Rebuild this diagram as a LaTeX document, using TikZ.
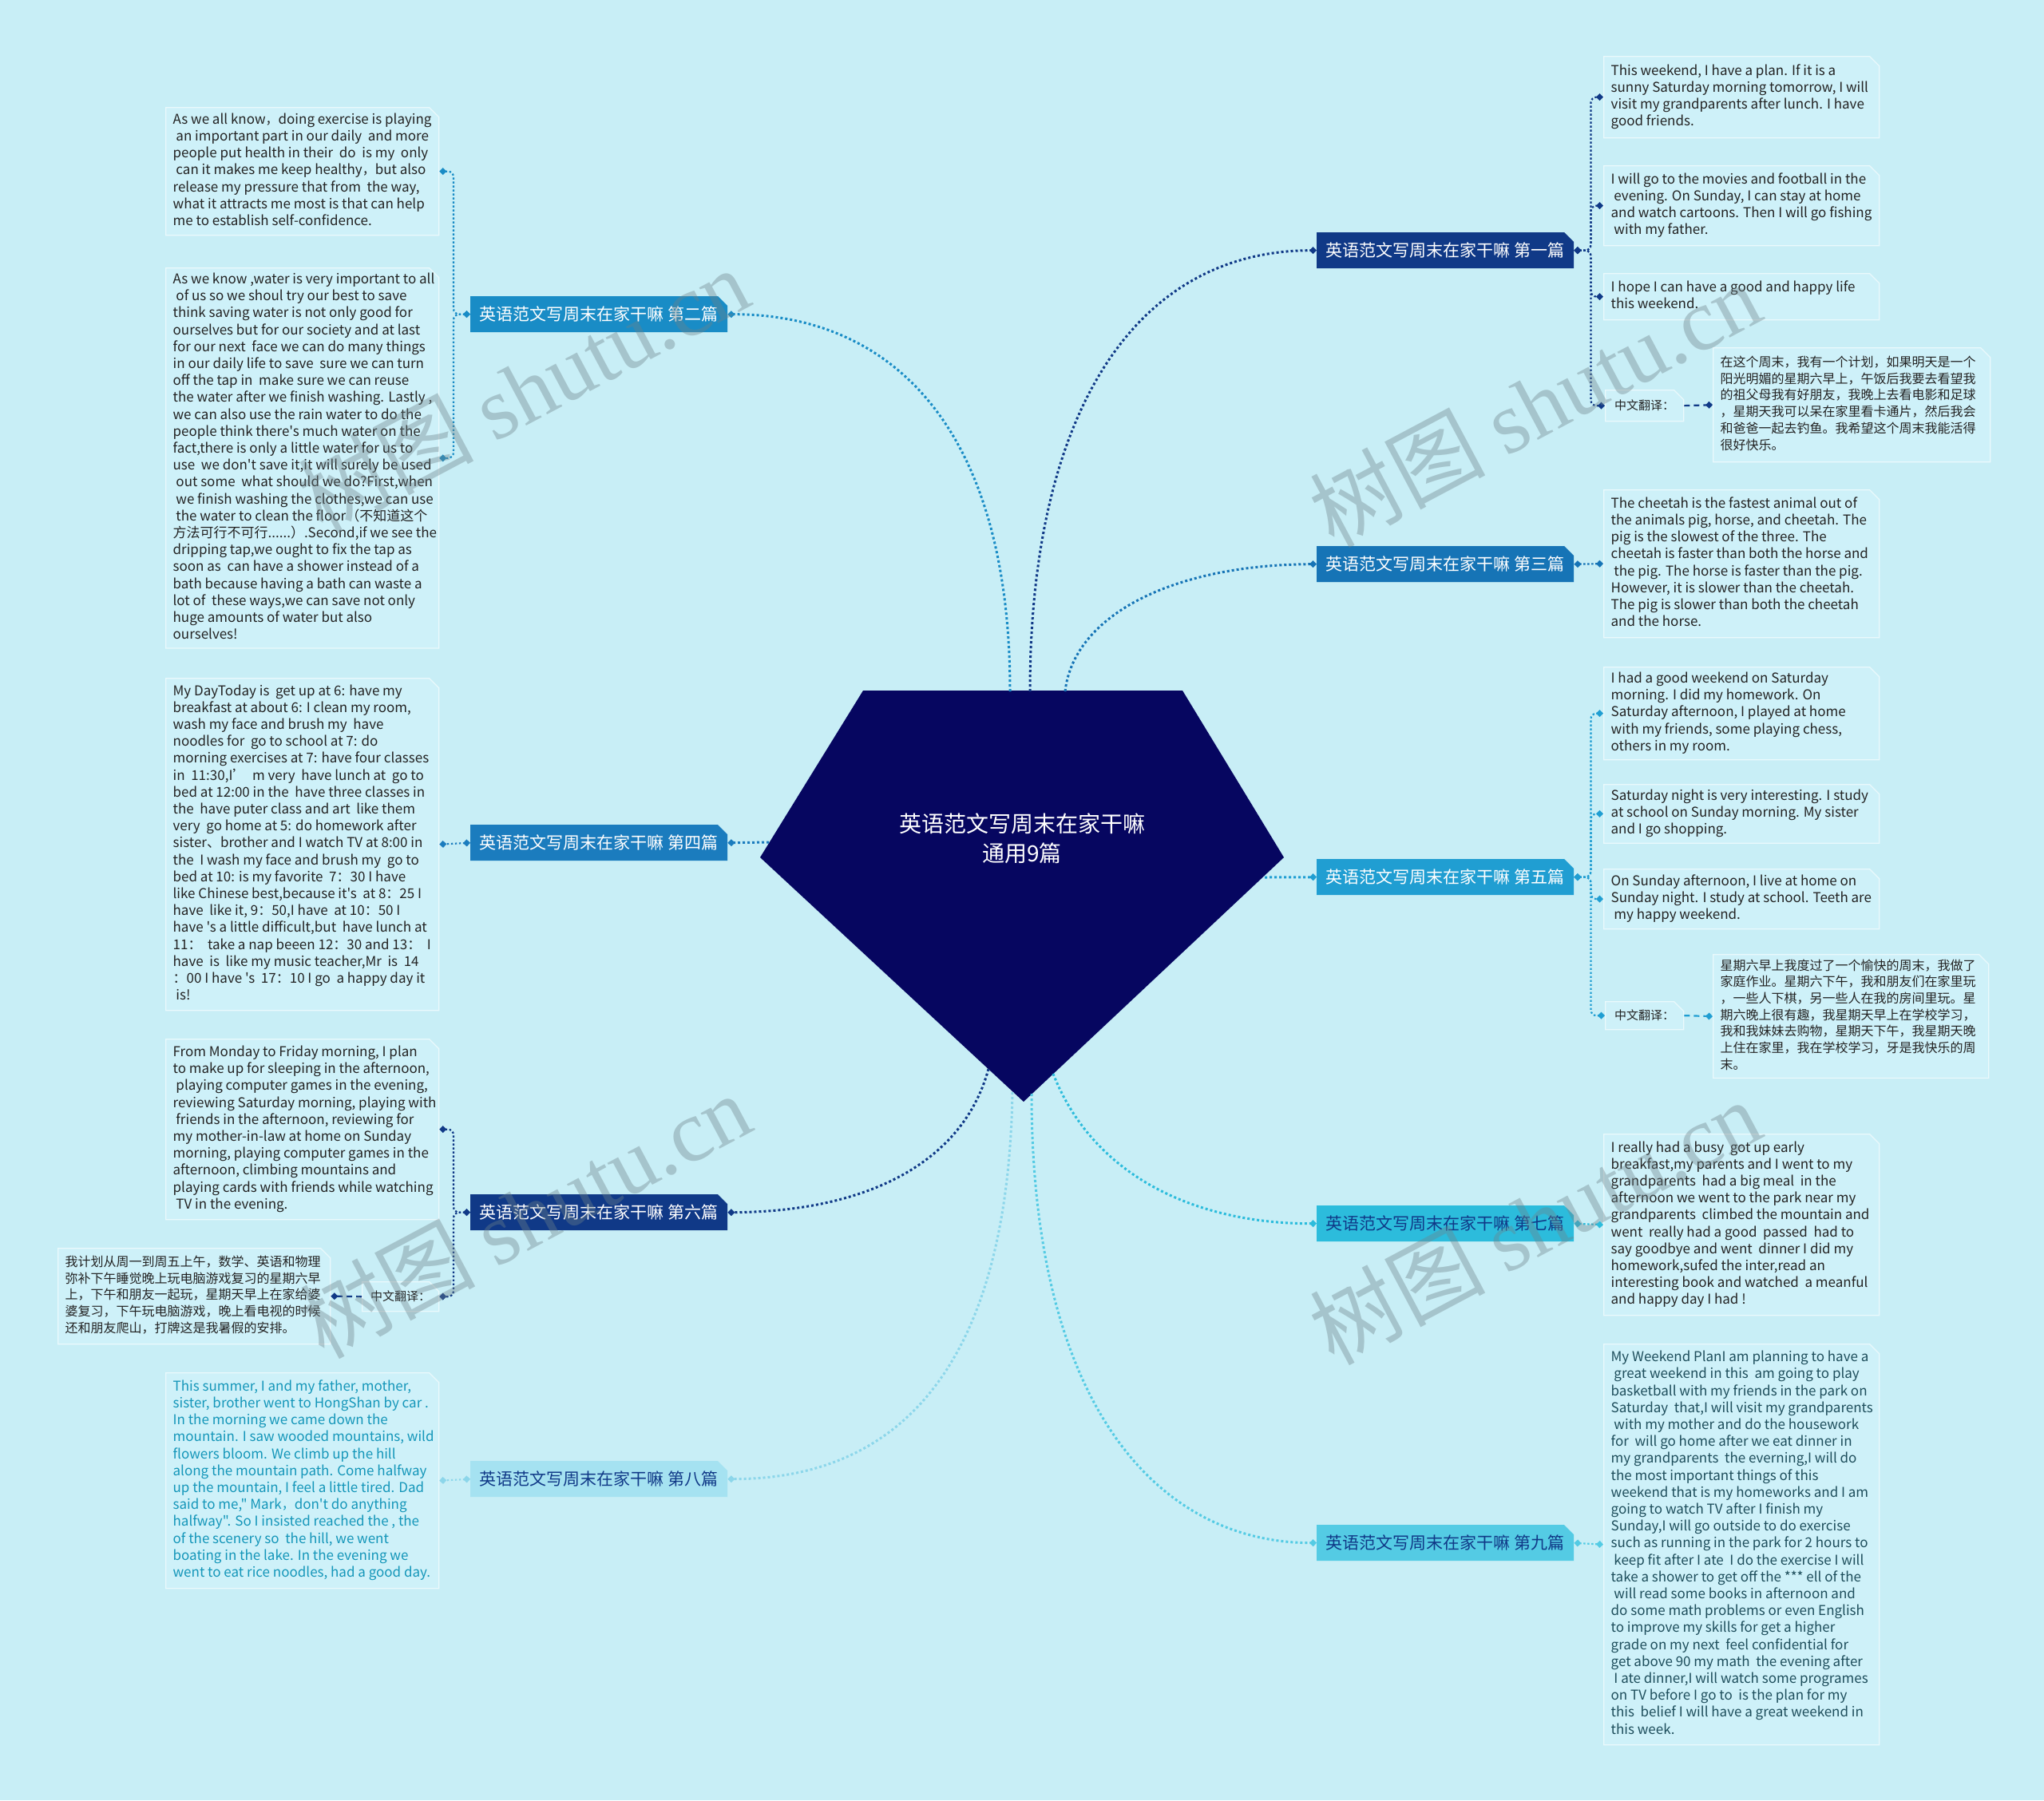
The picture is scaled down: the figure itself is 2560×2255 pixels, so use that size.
\documentclass[tikz,border=0pt]{standalone}
\usepackage{fontspec}
\setmainfont{Noto Sans CJK SC}
\newfontfamily\plainfont{Noto Sans CJK SC}
\newfontfamily\wmlatin{Liberation Serif}
\usetikzlibrary{shapes.misc,arrows.meta}
\definecolor{bgc}{RGB}{200,238,246}
\definecolor{leaffill}{RGB}{206,241,249}
\definecolor{leafline}{RGB}{234,249,252}
\definecolor{centerc}{RGB}{6,6,96}
\definecolor{txt}{RGB}{35,35,35}
\definecolor{cA}{RGB}{16,57,135}
\definecolor{cB}{RGB}{25,140,198}
\definecolor{cC}{RGB}{22,116,182}
\definecolor{cD}{RGB}{27,124,190}
\definecolor{cE}{RGB}{32,158,210}
\definecolor{cF}{RGB}{44,188,220}
\definecolor{cG}{RGB}{165,226,241}
\definecolor{cGl}{RGB}{140,214,234}
\definecolor{cH}{RGB}{84,203,228}
\definecolor{tealtxt}{RGB}{20,150,185}
\definecolor{slatetxt}{RGB}{30,78,92}
\definecolor{wmc}{RGB}{110,130,136}
\newcommand\leaffont{\plainfont\fontsize{17}{21.2}\selectfont}
\newcommand\cnfont{\plainfont\fontsize{16}{20.7}\selectfont}
\newcommand\lbox[2]{\makebox[#1pt][l]{\begin{tabular}{@{}l@{}}#2\end{tabular}}}
\tikzset{
  dtip/.tip={Turned Square[length=9pt,width=9pt,line width=0pt]},
  leaf/.style={chamfered rectangle, chamfered rectangle corners=north east,
    chamfered rectangle xsep=7pt, chamfered rectangle ysep=5pt,
    fill=leaffill, draw=leafline, line width=1.3pt, inner xsep=2pt, inner ysep=0pt,
    anchor=north west, font=\leaffont, text=txt},
  cnleaf/.style={leaf, font=\cnfont},
  tag/.style={leaf, font=\plainfont\fontsize{15}{18}\selectfont, align=center, inner sep=0pt},
  branch/.style={chamfered rectangle, chamfered rectangle corners=north east,
    chamfered rectangle xsep=6pt, chamfered rectangle ysep=6pt, draw=none,
    minimum width=322pt, minimum height=45pt, inner sep=0pt, anchor=north west,
    font=\fontsize{21}{25}\selectfont, text=white},
  trunk/.style={line width=3pt, dash pattern=on 3pt off 3pt, -{dtip}},
  twig/.style={line width=2.2pt, dash pattern=on 2.4pt off 2.6pt, rounded corners=7pt, {dtip}-{dtip}},
  trans/.style={line width=2.2pt, dash pattern=on 7pt off 5pt, -{dtip}},
  wm/.style={text=wmc, opacity=0.38, font=\fontsize{110}{120}\selectfont, inner sep=0pt}
}
\begin{document}
\begin{tikzpicture}[x=1pt,y=-1pt]
\useasboundingbox (0,0) rectangle (2560,2255);
\fill[bgc] (0,0) rectangle (2560,2255);

% central pentagon
\fill[centerc] (1081,865) -- (1481,865) -- (1608,1074) -- (1282,1380) -- (952,1074) -- cycle;
\node[text=white, font=\fontsize{28}{37}\selectfont, align=center] (center) at (1280,1050) {英语范文写周末在家干嘛\\通用9篇};
\coordinate (s1) at (1290,866);
\coordinate (s2) at (1265,866);
\coordinate (s3) at (1334,866);
\coordinate (s4) at (963,1055);
\coordinate (s5) at (1584,1099);
\coordinate (s6) at (1238,1339);
\coordinate (s7) at (1319,1345);
\coordinate (s8) at (1268,1368);
\coordinate (s9) at (1292,1370);

% branches
\node[branch, fill=cA] (b1) at (1649,291) {英语范文写周末在家干嘛 第一篇};
\node[branch, fill=cB] (b2) at (589,371) {英语范文写周末在家干嘛 第二篇};
\node[branch, fill=cC] (b3) at (1649,684) {英语范文写周末在家干嘛 第三篇};
\node[branch, fill=cD] (b4) at (589,1033) {英语范文写周末在家干嘛 第四篇};
\node[branch, fill=cE] (b5) at (1649,1076) {英语范文写周末在家干嘛 第五篇};
\node[branch, fill=cA] (b6) at (589,1496) {英语范文写周末在家干嘛 第六篇};
\node[branch, fill=cF, text=cA] (b7) at (1649,1510) {英语范文写周末在家干嘛 第七篇};
\node[branch, fill=cG, text=cA] (b8) at (589,1830) {英语范文写周末在家干嘛 第八篇};
\node[branch, fill=cH, text=cA] (b9) at (1649,1910) {英语范文写周末在家干嘛 第九篇};

% trunk connectors
\draw[trunk, cA] (s1) .. controls (1290,520) and (1420,313) .. (b1.west);
\draw[trunk, cB] (s2) .. controls (1265,540) and (1120,393) .. (b2.east);
\draw[trunk, cC] (s3) .. controls (1345,770) and (1470,707) .. (b3.west);
\draw[trunk, cD] (s4) -- (b4.east);
\draw[trunk, cE] (s5) -- (b5.west);
\draw[trunk, cA] (s6) .. controls (1205,1460) and (1080,1518) .. (b6.east);
\draw[trunk, cF] (s7) .. controls (1370,1475) and (1500,1533) .. (b7.west);
\draw[trunk, cGl] (s8) .. controls (1262,1720) and (1120,1853) .. (b8.east);
\draw[trunk, cH] (s9) .. controls (1292,1760) and (1450,1933) .. (b9.west);

% ---- left leaves
\node[leaf, minimum width=342pt, minimum height=160pt] (l2a) at (207,134) {\lbox{324}{%
As we all know{\cnfont，}doing exercise is playing\\
\ an important part in our daily \ and more\\
people put health in their \ do \ is my \ only\\
\ can it makes me keep healthy{\cnfont，}but also\\
release my pressure that from \ the way,\\
what it attracts me most is that can help\\
me to establish self-confidence.}};
\node[leaf, minimum width=342pt, minimum height=476pt] (l2b) at (207,335) {\lbox{324}{%
As we know ,water is very important to all\\
\ of us so we shoul try our best to save\\
think saving water is not only good for\\
ourselves but for our society and at last\\
for our next \ face we can do many things\\
in our daily life to save \ sure we can turn\\
off the tap in \ make sure we can reuse\\
the water after we finish washing. Lastly ,\\
we can also use the rain water to do the\\
people think there's much water on the\\
fact,there is only a little water for us to\\
use \ we don't save it,it will surely be used\\
\ out some \ what should we do?First,when\\
\ we finish washing the clothes,we can use\\
\ the water to clean the floor（不知道这个\\
方法可行不可行......）.Second,if we see the\\
dripping tap,we ought to fix the tap as\\
soon as \ can have a shower instead of a\\
bath because having a bath can waste a\\
lot of \ these ways,we can save not only\\
huge amounts of water but also\\
ourselves!}};
\node[leaf, minimum width=342pt, minimum height=416pt] (l4) at (207,849) {\lbox{324}{%
My DayToday is \ get up at 6: have my\\
breakfast at about 6: I clean my room,\\
wash my face and brush my \ have\\
noodles for \ go to school at 7: do\\
morning exercises at 7: have four classes\\
in \ 11:30,I’ \ m very \ have lunch at \ go to\\
bed at 12:00 in the \ have three classes in\\
the \ have puter class and art \ like them\\
very \ go home at 5: do homework after\\
sister、brother and I watch TV at 8:00 in\\
the \ I wash my face and brush my \ go to\\
bed at 10: is my favorite \ 7：30 I have\\
like Chinese best,because it's \ at 8：25 I\\
have \ like it, 9：50,I have \ at 10：50 I\\
have 's a little difficult,but \ have lunch at\\
11： \ take a nap beeen 12：30 and 13： \ I\\
have \ is \ like my music teacher,Mr \ is \ 14\\
：00 I have 's \ 17：10 I go \ a happy day it\\
\ is!}};
\node[leaf, minimum width=342pt, minimum height=226pt] (l6) at (207,1301) {\lbox{324}{%
From Monday to Friday morning, I plan\\
to make up for sleeping in the afternoon,\\
\ playing computer games in the evening,\\
reviewing Saturday morning, playing with\\
\ friends in the afternoon, reviewing for\\
my mother-in-law at home on Sunday\\
morning, playing computer games in the\\
afternoon, climbing mountains and\\
playing cards with friends while watching\\
\ TV in the evening.}};
\node[tag, minimum width=96pt, minimum height=37pt] (l6tag) at (453,1605) {中文翻译：};
\node[cnleaf, minimum width=341pt, minimum height=120pt] (l6t) at (72,1563) {\lbox{323}{%
我计划从周一到周五上午，数学、英语和物理\\
弥补下午睡觉晚上玩电脑游戏复习的星期六早\\
上，下午和朋友一起玩，星期天早上在家给婆\\
婆复习，下午玩电脑游戏，晚上看电视的时候\\
还和朋友爬山，打牌这是我暑假的安排。}};
\node[leaf, text=tealtxt, minimum width=342pt, minimum height=270pt] (l8) at (207,1719) {\lbox{324}{%
This summer, I and my father, mother,\\
sister, brother went to HongShan by car .\\
In the morning we came down the\\
mountain. I saw wooded mountains, wild\\
flowers bloom. We climb up the hill\\
along the mountain path. Come halfway\\
up the mountain, I feel a little tired. Dad\\
said to me," Mark{\cnfont，}don't do anything\\
halfway". So I insisted reached the , the\\
of the scenery so \ the hill, we went\\
boating in the lake. In the evening we\\
went to eat rice noodles, had a good day.}};

% ---- right leaves
\node[leaf, minimum width=345pt, minimum height=102pt] (r1a) at (2008,70) {\lbox{327}{%
This weekend, I have a plan. If it is a\\
sunny Saturday morning tomorrow, I will\\
visit my grandparents after lunch. I have\\
good friends.}};
\node[leaf, minimum width=345pt, minimum height=100pt] (r1b) at (2008,207) {\lbox{327}{%
I will go to the movies and football in the\\
\ evening. On Sunday, I can stay at home\\
and watch cartoons. Then I will go fishing\\
\ with my father.}};
\node[leaf, minimum width=345pt, minimum height=58pt] (r1c) at (2008,342) {\lbox{327}{%
I hope I can have a good and happy life\\
this weekend.}};
\node[tag, minimum width=98pt, minimum height=39pt] (r1tag) at (2010,488) {中文翻译：};
\node[cnleaf, minimum width=347pt, minimum height=143pt] (r1t) at (2145,435) {\lbox{329}{%
在这个周末，我有一个计划，如果明天是一个\\
阳光明媚的星期六早上，午饭后我要去看望我\\
的祖父母我有好朋友，我晚上去看电影和足球\\
，星期天我可以呆在家里看卡通片，然后我会\\
和爸爸一起去钓鱼。我希望这个周末我能活得\\
很好快乐。}};
\node[leaf, minimum width=345pt, minimum height=185pt] (r3) at (2008,613) {\lbox{327}{%
The cheetah is the fastest animal out of\\
the animals pig, horse, and cheetah. The\\
pig is the slowest of the three. The\\
cheetah is faster than both the horse and\\
\ the pig. The horse is faster than the pig.\\
However, it is slower than the cheetah.\\
The pig is slower than both the cheetah\\
and the horse.}};
\node[leaf, minimum width=345pt, minimum height=113pt] (r5a) at (2008,835) {\lbox{327}{%
I had a good weekend on Saturday\\
morning. I did my homework. On\\
Saturday afternoon, I played at home\\
with my friends, some playing chess,\\
others in my room.}};
\node[leaf, minimum width=345pt, minimum height=73pt] (r5b) at (2008,982) {\lbox{327}{%
Saturday night is very interesting. I study\\
at school on Sunday morning. My sister\\
and I go shopping.}};
\node[leaf, minimum width=345pt, minimum height=75pt] (r5c) at (2008,1088) {\lbox{327}{%
On Sunday afternoon, I live at home on\\
Sunday night. I study at school. Teeth are\\
\ my happy weekend.}};
\node[tag, minimum width=98pt, minimum height=35pt] (r5tag) at (2010,1254) {中文翻译：};
\node[cnleaf, minimum width=345pt, minimum height=153pt] (r5t) at (2145,1195) {\lbox{327}{%
星期六早上我度过了一个愉快的周末，我做了\\
家庭作业。星期六下午，我和朋友们在家里玩\\
，一些人下棋，另一些人在我的房间里玩。星\\
期六晚上很有趣，我星期天早上在学校学习，\\
我和我妹妹去购物，星期天下午，我星期天晚\\
上住在家里，我在学校学习，牙是我快乐的周\\
末。}};
\node[leaf, minimum width=345pt, minimum height=227pt] (r7) at (2008,1420) {\lbox{327}{%
I really had a busy \ got up early\\
breakfast,my parents and I went to my\\
grandparents \ had a big meal \ in the\\
afternoon we went to the park near my\\
grandparents \ climbed the mountain and\\
went \ really had a good \ passed \ had to\\
say goodbye and went \ dinner I did my\\
homework,sufed the inter,read an\\
interesting book and watched \ a meanful\\
and happy day I had !}};
\node[leaf, text=slatetxt, minimum width=345pt, minimum height=502pt] (r9) at (2008,1683) {\lbox{327}{%
My Weekend PlanI am planning to have a\\
\ great weekend in this \ am going to play\\
basketball with my friends in the park on\\
Saturday \ that,I will visit my grandparents\\
\ with my mother and do the housework\\
for \ will go home after we eat dinner in\\
my grandparents \ the everning,I will do\\
the most important things of this\\
weekend that is my homeworks and I am\\
going to watch TV after I finish my\\
Sunday,I will go outside to do exercise\\
such as running in the park for 2 hours to\\
\ keep fit after I ate \ I do the exercise I will\\
take a shower to get off the *** ell of the\\
\ will read some books in afternoon and\\
do some math problems or even English\\
to improve my skills for get a higher\\
grade on my next \ feel confidential for\\
get above 90 my math \ the evening after\\
\ I ate dinner,I will watch some programes\\
on TV before I go to \ is the plan for my\\
this \ belief I will have a great weekend in\\
this week.}};

% ---- twigs
\draw[twig, cB] (b2.west) -- ++(-21,0) |- (l2a.east);
\draw[twig, cB] (b2.west) -- ++(-21,0) |- (l2b.east);
\draw[twig, cD] (b4.west) -- (l4.east);
\draw[twig, cA] (b6.west) -- ++(-21,0) |- (l6.east);
\draw[twig, cA] (b6.west) -- ++(-21,0) |- (l6tag.east);
\draw[trans, cA] (l6tag.west) -- (l6t.east);
\draw[twig, cGl] (b8.west) -- (l8.east);

\draw[twig, cA] (b1.east) -- ++(21,0) |- (r1a.west);
\draw[twig, cA] (b1.east) -- ++(21,0) |- (r1b.west);
\draw[twig, cA] (b1.east) -- ++(21,0) |- (r1c.west);
\draw[twig, cA] (b1.east) -- ++(21,0) |- (r1tag.west);
\draw[trans, cA] (r1tag.east) -- (r1t.west);
\draw[twig, cC] (b3.east) -- (r3.west);
\draw[twig, cE] (b5.east) -- ++(21,0) |- (r5a.west);
\draw[twig, cE] (b5.east) -- ++(21,0) |- (r5b.west);
\draw[twig, cE] (b5.east) -- ++(21,0) |- (r5c.west);
\draw[twig, cE] (b5.east) -- ++(21,0) |- (r5tag.west);
\draw[trans, cE] (r5tag.east) -- (r5t.west);
\draw[twig, cF] (b7.east) -- (r7.west);
\draw[twig, cH] (b9.east) -- (r9.west);

% ---- watermarks
\node[wm, rotate=28] (wm1) at (655,488) {树图 {\wmlatin shutu.cn}};
\node[wm, rotate=28] (wm2) at (1922,506) {树图 {\wmlatin shutu.cn}};
\node[wm, rotate=28] (wm3) at (657,1522) {树图 {\wmlatin shutu.cn}};
\node[wm, rotate=28] (wm4) at (1922,1530) {树图 {\wmlatin shutu.cn}};
\end{tikzpicture}
\end{document}
